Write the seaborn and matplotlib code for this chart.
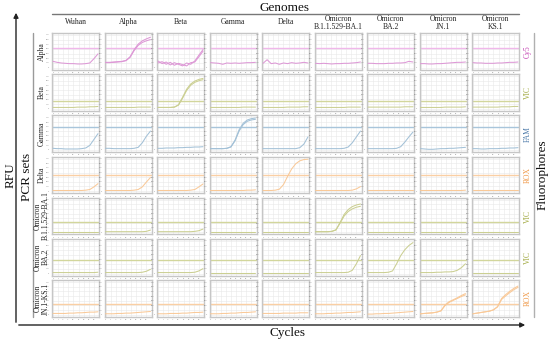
import numpy as np
import pandas as pd
import matplotlib
matplotlib.use("Agg")
import matplotlib.pyplot as plt
from matplotlib.lines import Line2D
from matplotlib.patches import FancyArrowPatch
import seaborn as sns

# ---------------- data ----------------
genomes = ["Wuhan", "Alpha", "Beta", "Gamma", "Delta",
           "Omicron\nB.1.1.529-BA.1", "Omicron\nBA.2", "Omicron\nJN.1", "Omicron\nKS.1"]
pcr_sets = ["Alpha", "Beta", "Gamma", "Delta",
            "Omicron\nB.1.1.529-BA.1", "Omicron\nBA.2", "Omicron\nJN.1-KS.1"]
fluorophores = ["Cy5", "VIC", "FAM", "ROX", "VIC", "VIC", "ROX"]
cycles = [0, 4, 8, 12, 16, 20, 24, 28, 32, 36, 40, 44]
thresholds = [0.59, 0.25, 0.70, 0.49, 0.33, 0.43, 0.34]

alpha_set = [
    [0.19, 0.16, 0.14, 0.13, 0.12, 0.12, 0.11, 0.11, 0.12, 0.14, 0.27, 0.42],
    [0.16, 0.16, 0.17, 0.18, 0.19, 0.22, 0.33, 0.55, 0.72, 0.82, 0.88, 0.93],
    [0.20, 0.12, 0.17, 0.08, 0.15, 0.10, 0.05, 0.14, 0.10, 0.20, 0.38, 0.55],
    [0.15, 0.14, 0.13, 0.10, 0.14, 0.13, 0.14, 0.13, 0.14, 0.15, 0.15, 0.16],
    [0.13, 0.24, 0.12, 0.14, 0.10, 0.14, 0.12, 0.15, 0.13, 0.14, 0.16, 0.14],
    [0.13, 0.12, 0.13, 0.12, 0.11, 0.12, 0.12, 0.13, 0.13, 0.14, 0.15, 0.17],
    [0.13, 0.13, 0.12, 0.12, 0.12, 0.13, 0.13, 0.14, 0.14, 0.15, 0.19, 0.17],
    [0.12, 0.12, 0.11, 0.11, 0.12, 0.12, 0.13, 0.14, 0.15, 0.16, 0.16, 0.17],
    [0.15, 0.14, 0.14, 0.13, 0.13, 0.13, 0.14, 0.14, 0.15, 0.16, 0.16, 0.17],
]
beta_set = [
    [0.04, 0.04, 0.04, 0.04, 0.04, 0.04, 0.05, 0.05, 0.05, 0.06, 0.06, 0.07],
    [0.04, 0.04, 0.04, 0.04, 0.04, 0.04, 0.04, 0.04, 0.05, 0.05, 0.05, 0.05],
    [0.04, 0.04, 0.04, 0.04, 0.05, 0.12, 0.35, 0.60, 0.76, 0.85, 0.90, 0.93],
    [0.04, 0.04, 0.04, 0.04, 0.04, 0.04, 0.04, 0.04, 0.05, 0.05, 0.05, 0.05],
    [0.04, 0.04, 0.04, 0.04, 0.04, 0.04, 0.05, 0.05, 0.05, 0.05, 0.06, 0.06],
    [0.04, 0.04, 0.04, 0.04, 0.04, 0.04, 0.04, 0.04, 0.05, 0.05, 0.05, 0.05],
    [0.05, 0.05, 0.05, 0.05, 0.05, 0.05, 0.05, 0.05, 0.05, 0.06, 0.06, 0.06],
    [0.04, 0.04, 0.04, 0.04, 0.04, 0.04, 0.05, 0.05, 0.05, 0.05, 0.05, 0.06],
    [0.05, 0.05, 0.05, 0.05, 0.05, 0.05, 0.05, 0.06, 0.06, 0.06, 0.07, 0.07],
]
gamma_set = [
    [0.05, 0.04, 0.04, 0.03, 0.03, 0.03, 0.03, 0.04, 0.06, 0.14, 0.32, 0.50],
    [0.05, 0.05, 0.04, 0.04, 0.04, 0.04, 0.04, 0.05, 0.08, 0.22, 0.42, 0.58],
    [0.05, 0.05, 0.06, 0.06, 0.06, 0.07, 0.07, 0.08, 0.08, 0.09, 0.09, 0.10],
    [0.04, 0.04, 0.04, 0.04, 0.05, 0.10, 0.30, 0.62, 0.82, 0.92, 0.96, 0.98],
    [0.04, 0.04, 0.04, 0.04, 0.04, 0.04, 0.04, 0.04, 0.04, 0.07, 0.18, 0.40],
    [0.04, 0.04, 0.04, 0.04, 0.04, 0.04, 0.04, 0.05, 0.09, 0.22, 0.40, 0.58],
    [0.04, 0.04, 0.04, 0.04, 0.04, 0.04, 0.04, 0.05, 0.10, 0.24, 0.40, 0.55],
    [0.04, 0.03, 0.02, 0.02, 0.03, 0.04, 0.04, 0.05, 0.05, 0.06, 0.07, 0.08],
    [0.04, 0.04, 0.03, 0.03, 0.04, 0.04, 0.04, 0.05, 0.05, 0.06, 0.06, 0.07],
]
delta_set = [
    [0.02, 0.02, 0.02, 0.02, 0.02, 0.02, 0.02, 0.02, 0.03, 0.05, 0.13, 0.23],
    [0.02, 0.02, 0.02, 0.02, 0.02, 0.02, 0.02, 0.03, 0.05, 0.13, 0.28, 0.42],
    [0.02, 0.02, 0.02, 0.02, 0.02, 0.02, 0.02, 0.02, 0.03, 0.05, 0.13, 0.22],
    [0.02, 0.02, 0.02, 0.02, 0.02, 0.02, 0.02, 0.02, 0.02, 0.03, 0.03, 0.04],
    [0.02, 0.02, 0.02, 0.03, 0.06, 0.20, 0.45, 0.68, 0.84, 0.93, 0.97, 0.98],
    [0.02, 0.02, 0.02, 0.02, 0.02, 0.02, 0.02, 0.02, 0.02, 0.03, 0.07, 0.14],
    [0.02, 0.02, 0.02, 0.02, 0.02, 0.02, 0.02, 0.02, 0.02, 0.02, 0.02, 0.02],
    [0.02, 0.02, 0.02, 0.02, 0.02, 0.02, 0.02, 0.02, 0.02, 0.02, 0.02, 0.03],
    [0.02, 0.02, 0.02, 0.02, 0.02, 0.02, 0.02, 0.02, 0.02, 0.02, 0.02, 0.02],
]
ba1_set = [
    [0.02, 0.02, 0.02, 0.02, 0.02, 0.02, 0.02, 0.02, 0.02, 0.02, 0.02, 0.02],
    [0.02, 0.02, 0.02, 0.02, 0.02, 0.02, 0.02, 0.02, 0.02, 0.02, 0.03, 0.07],
    [0.02, 0.02, 0.02, 0.02, 0.02, 0.02, 0.02, 0.02, 0.02, 0.03, 0.05, 0.10],
    [0.02, 0.02, 0.02, 0.02, 0.02, 0.02, 0.02, 0.02, 0.02, 0.02, 0.02, 0.02],
    [0.02, 0.02, 0.02, 0.02, 0.02, 0.02, 0.02, 0.02, 0.02, 0.02, 0.02, 0.02],
    [0.02, 0.02, 0.02, 0.02, 0.03, 0.08, 0.30, 0.55, 0.70, 0.79, 0.84, 0.87],
    [0.02, 0.02, 0.02, 0.02, 0.02, 0.02, 0.02, 0.02, 0.02, 0.02, 0.02, 0.02],
    [0.02, 0.02, 0.02, 0.02, 0.02, 0.02, 0.02, 0.02, 0.02, 0.02, 0.02, 0.02],
    [0.02, 0.02, 0.02, 0.02, 0.02, 0.02, 0.02, 0.02, 0.02, 0.02, 0.02, 0.02],
]
ba2_set = [
    [0.03, 0.03, 0.03, 0.03, 0.03, 0.03, 0.03, 0.03, 0.03, 0.03, 0.03, 0.04],
    [0.03, 0.03, 0.03, 0.03, 0.03, 0.03, 0.03, 0.03, 0.03, 0.04, 0.07, 0.13],
    [0.03, 0.03, 0.03, 0.03, 0.03, 0.03, 0.03, 0.03, 0.03, 0.04, 0.08, 0.15],
    [0.03, 0.03, 0.03, 0.03, 0.03, 0.03, 0.03, 0.03, 0.03, 0.03, 0.03, 0.03],
    [0.03, 0.03, 0.03, 0.03, 0.03, 0.03, 0.03, 0.03, 0.03, 0.03, 0.03, 0.03],
    [0.03, 0.03, 0.03, 0.03, 0.03, 0.03, 0.03, 0.03, 0.04, 0.10, 0.30, 0.55],
    [0.03, 0.03, 0.03, 0.03, 0.03, 0.04, 0.08, 0.30, 0.55, 0.73, 0.86, 0.95],
    [0.03, 0.03, 0.03, 0.03, 0.04, 0.04, 0.05, 0.05, 0.06, 0.10, 0.18, 0.30],
    [0.03, 0.03, 0.03, 0.03, 0.03, 0.03, 0.03, 0.03, 0.03, 0.03, 0.03, 0.03],
]
jn1_ks1_set = [
    [0.04, 0.04, 0.04, 0.04, 0.05, 0.05, 0.06, 0.06, 0.07, 0.08, 0.08, 0.09],
    [0.03, 0.03, 0.03, 0.04, 0.04, 0.05, 0.05, 0.06, 0.07, 0.08, 0.09, 0.10],
    [0.03, 0.03, 0.03, 0.04, 0.04, 0.04, 0.05, 0.05, 0.06, 0.07, 0.07, 0.08],
    [0.03, 0.03, 0.03, 0.04, 0.04, 0.05, 0.05, 0.06, 0.07, 0.07, 0.08, 0.09],
    [0.04, 0.04, 0.04, 0.04, 0.04, 0.05, 0.05, 0.05, 0.05, 0.06, 0.06, 0.06],
    [0.03, 0.03, 0.03, 0.04, 0.04, 0.05, 0.05, 0.06, 0.07, 0.07, 0.08, 0.09],
    [0.02, 0.02, 0.03, 0.03, 0.04, 0.04, 0.05, 0.06, 0.07, 0.08, 0.09, 0.10],
    [0.03, 0.04, 0.05, 0.06, 0.08, 0.12, 0.30, 0.40, 0.46, 0.52, 0.59, 0.65],
    [0.03, 0.05, 0.07, 0.09, 0.11, 0.15, 0.25, 0.50, 0.62, 0.72, 0.81, 0.88],
]
curve_sets = [alpha_set, beta_set, gamma_set, delta_set, ba1_set, ba2_set, jn1_ks1_set]

# a second visible replicate in some panels: (row, col) -> values
second_replicates = {
    (0, 1): [0.15, 0.15, 0.16, 0.17, 0.18, 0.21, 0.31, 0.52, 0.68, 0.77, 0.82, 0.86],
    (0, 2): [0.14, 0.18, 0.10, 0.16, 0.07, 0.13, 0.09, 0.05, 0.15, 0.17, 0.33, 0.50],
    (1, 2): [0.04, 0.04, 0.04, 0.04, 0.05, 0.11, 0.32, 0.56, 0.72, 0.81, 0.86, 0.89],
    (2, 3): [0.04, 0.04, 0.04, 0.04, 0.05, 0.09, 0.28, 0.58, 0.78, 0.88, 0.92, 0.94],
    (4, 5): [0.02, 0.02, 0.02, 0.02, 0.03, 0.07, 0.28, 0.50, 0.64, 0.72, 0.77, 0.80],
    (6, 7): [0.03, 0.04, 0.05, 0.06, 0.08, 0.12, 0.28, 0.38, 0.44, 0.50, 0.56, 0.61],
    (6, 8): [0.03, 0.05, 0.07, 0.09, 0.11, 0.15, 0.24, 0.47, 0.58, 0.68, 0.77, 0.84],
}

curve_colors = {"Cy5": "#dd98d6", "VIC": "#cbcf92", "FAM": "#a3c1d7", "ROX": "#f9c998"}
thr_colors = {"Cy5": "#f0b8ea", "VIC": "#d2d69c", "FAM": "#a8c5db", "ROX": "#facfa4"}
label_colors = {"Cy5": "#c23cb0", "VIC": "#a0a83e", "FAM": "#4a78a8", "ROX": "#f09a4a"}

# long-form table
records = []
for r, cset in enumerate(curve_sets):
    for c, vals in enumerate(cset):
        for cyc, v in zip(cycles, vals):
            records.append((r, c, 0, cyc, v))
for (r, c), vals in second_replicates.items():
    for cyc, v in zip(cycles, vals):
        records.append((r, c, 1, cyc, v))
df = pd.DataFrame(records, columns=["row", "col", "rep", "cycle", "rfu"])

# ---------------- figure ----------------
sns.set_theme(style="whitegrid")
plt.rcParams["font.family"] = ["Liberation Serif", "DejaVu Serif"]

W, H = 550, 343
fig = plt.figure(figsize=(W / 100, H / 100), dpi=100)
fig.patch.set_facecolor("white")


def fx(px):
    return px / W


def fy(py):
    return 1 - py / H


col_left0, col_pitch, col_w = 52, 52.5, 47
row_top0, row_pitch, row_h = 33, 41.2, 36.5

xt = [0, 5, 10, 15, 20, 25, 30, 35, 40]
yt = list(np.linspace(0, 1, 8))

for r in range(len(pcr_sets)):
    fl = fluorophores[r]
    for c in range(len(genomes)):
        left = col_left0 + c * col_pitch
        top = row_top0 + r * row_pitch
        ax = fig.add_axes([fx(left), fy(top + row_h), col_w / W, row_h / H])
        sub = df[(df.row == r) & (df.col == c)]
        ax.axhline(thresholds[r], color=thr_colors[fl], lw=1.0, zorder=2)
        sns.lineplot(data=sub, x="cycle", y="rfu", units="rep", estimator=None,
                     color=curve_colors[fl], lw=0.75, ax=ax, legend=False, zorder=3)
        ax.set_xlim(-1, 45)
        ax.set_ylim(-0.06, 1.06)
        ax.set_xticks(xt)
        ax.set_yticks(yt)
        ax.set_xticklabels([str(v) for v in xt])
        ax.set_yticklabels([str(int(v * 700)) for v in yt])
        ax.tick_params(axis="both", labelsize=1.6, labelcolor="#777777",
                       length=1, width=0.3, color="#aaaaaa", pad=0.8)
        ax.set_xlabel("")
        ax.set_ylabel("")
        ax.grid(True, color="#e9e9e9", lw=0.4)
        ax.set_facecolor("white")
        for s in ax.spines.values():
            s.set_color("#c6c6c6")
            s.set_linewidth(1.0)

# column headers
for c, g in enumerate(genomes):
    cx = col_left0 + c * col_pitch + col_w / 2
    cy = 23 if "\n" in g else 22
    fig.text(fx(cx), fy(cy), g, ha="center", va="center", fontsize=5.5,
             linespacing=1.05, color="#222222")

# row labels
for r, p in enumerate(pcr_sets):
    cy = row_top0 + r * row_pitch + row_h / 2
    fig.text(fx(41.5), fy(cy), p, ha="center", va="center", rotation=90,
             fontsize=5.5, linespacing=1.0, color="#222222")

# fluorophore labels
for r, fl in enumerate(fluorophores):
    cy = row_top0 + r * row_pitch + row_h / 2
    fig.text(fx(528), fy(cy), fl, ha="center", va="center", rotation=90,
             fontsize=5.5, color=label_colors[fl])

# titles
fig.text(fx(285), fy(8), "Genomes", ha="center", va="center", fontsize=9.5, color="#111111")
fig.text(fx(287), fy(333), "Cycles", ha="center", va="center", fontsize=9.5, color="#111111")
fig.text(fx(11), fy(175), "RFU", ha="center", va="center", rotation=90, fontsize=9.5, color="#111111")
fig.text(fx(27.5), fy(177), "PCR sets", ha="center", va="center", rotation=90, fontsize=9.5, color="#111111")
fig.text(fx(543), fy(175), "Fluorophores", ha="center", va="center", rotation=90, fontsize=9.5, color="#111111")

# bracket lines
fig.add_artist(Line2D([fx(52), fx(519)], [fy(14), fy(14)], color="#777777", lw=1.0))
fig.add_artist(Line2D([fx(33), fx(33)], [fy(33), fy(317)], color="#9a9a9a", lw=1.0))
fig.add_artist(Line2D([fx(534), fx(534)], [fy(33), fy(317)], color="#b0b0b0", lw=1.0))

# axis arrows
fig.add_artist(FancyArrowPatch((fx(16), fy(325)), (fx(16), fy(10)), transform=fig.transFigure,
                               arrowstyle="-|>", mutation_scale=7, lw=1.0, color="#222222"))
fig.add_artist(FancyArrowPatch((fx(16), fy(325)), (fx(528), fy(325)), transform=fig.transFigure,
                               arrowstyle="-|>", mutation_scale=7, lw=1.0, color="#222222"))

fig.savefig("out.png", dpi=100, facecolor="white")
